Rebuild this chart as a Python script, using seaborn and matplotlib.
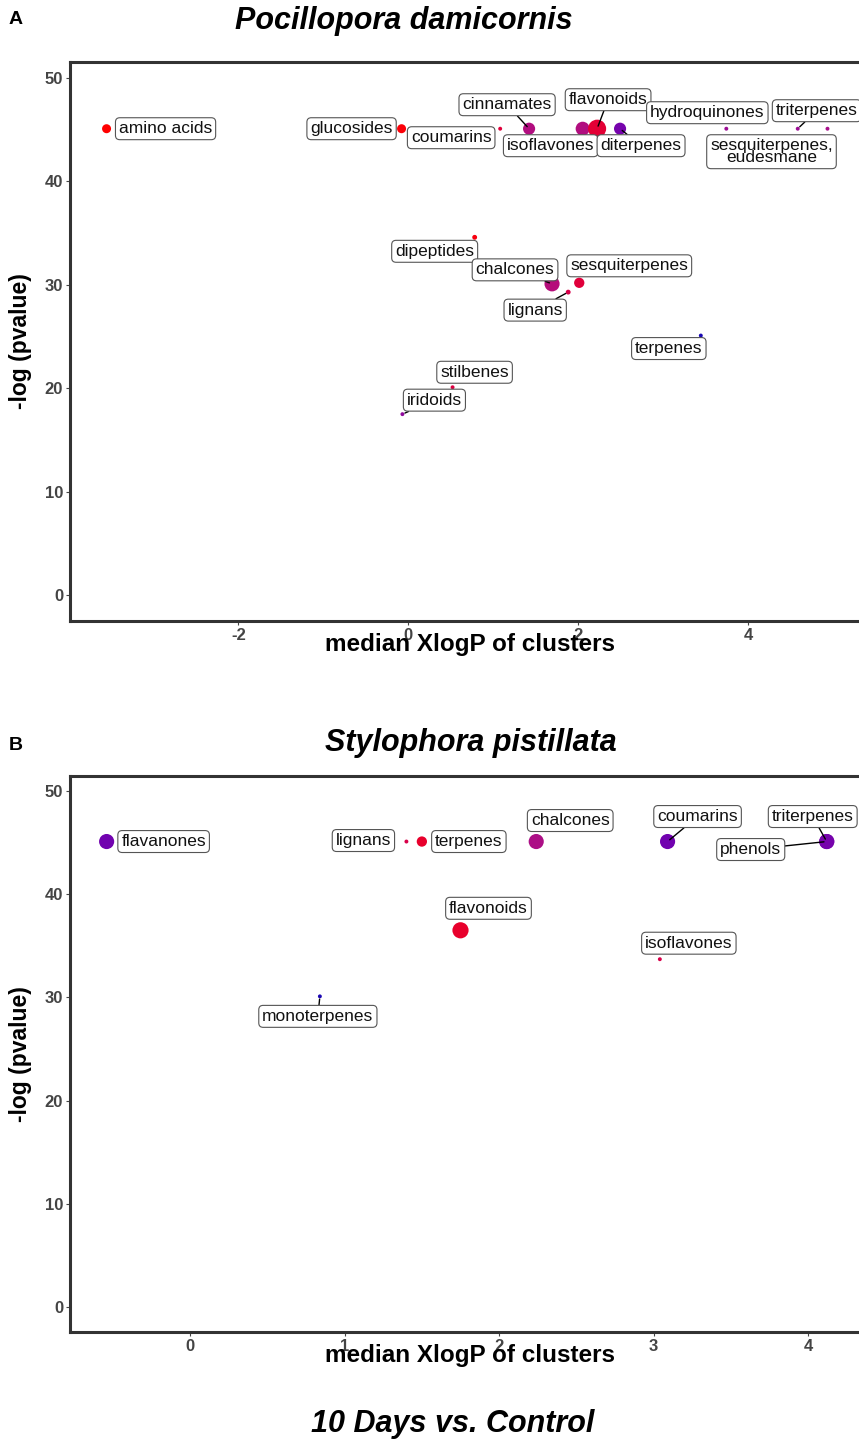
import matplotlib
matplotlib.use("Agg")
import matplotlib.pyplot as plt
from matplotlib.colors import LinearSegmentedColormap
import seaborn as sns
import pandas as pd

# ---------------- data ----------------
# Panel A: Pocillopora damicornis
a_class = ["amino acids", "glucosides", "coumarins", "cinnamates", "isoflavones",
           "flavonoids", "diterpenes", "hydroquinones", "triterpenes",
           "sesquiterpenes,\neudesmane", "dipeptides", "chalcones", "sesquiterpenes",
           "lignans", "terpenes", "stilbenes", "iridoids"]
a_xlogp = [-3.55, -0.08, 1.08, 1.42, 2.05, 2.22, 2.49, 3.74, 4.58, 4.93,
           0.78, 1.69, 2.01, 1.88, 3.44, 0.52, -0.07]
a_logp = [45.1, 45.1, 45.1, 45.1, 45.1, 45.1, 45.1, 45.1, 45.1, 45.1,
          34.6, 30.1, 30.2, 29.3, 25.1, 20.1, 17.5]
a_ratio = [1.0, 0.97, 0.8, 0.55, 0.55, 0.82, 0.3, 0.45, 0.45, 0.5,
           0.95, 0.57, 0.8, 0.75, 0.04, 0.78, 0.4]
a_n = [10, 10, 2, 18, 24, 40, 18, 2, 2, 2, 3, 28, 13, 3, 2, 2, 2]

# Panel B: Stylophora pistillata
b_class = ["flavanones", "lignans", "terpenes", "chalcones", "coumarins",
           "triterpenes", "phenols", "flavonoids", "isoflavones", "monoterpenes"]
b_xlogp = [-0.54, 1.40, 1.50, 2.24, 3.09, 4.12, 4.12, 1.75, 3.04, 0.84]
b_logp = [45.1, 45.1, 45.1, 45.1, 45.1, 45.1, 45.1, 36.5, 33.7, 30.1]
b_ratio = [0.28, 0.75, 0.85, 0.52, 0.28, 0.3, 0.3, 0.85, 0.75, 0.05]
b_n = [28, 2, 13, 28, 28, 28, 28, 32, 2, 2]

# ---------------- label layout (pixel offsets of label centres) ----------------
a_offsets = {
    "amino acids": (59, 0, False), "glucosides": (-50, 0, False),
    "coumarins": (-49, -9, False), "cinnamates": (-22, 24, True),
    "isoflavones": (-32, -17, False), "flavonoids": (11, 29, True),
    "diterpenes": (21, -17, True), "hydroquinones": (-19, 16, False),
    "triterpenes": (19, 18, True), "sesquiterpenes,\neudesmane": (-56, -23, False),
    "dipeptides": (-40, -14, False), "chalcones": (-37, 14, True),
    "sesquiterpenes": (50, 17, False), "lignans": (-33, -18, True),
    "terpenes": (-32, -13, False), "stilbenes": (22, 15, False),
    "iridoids": (32, 14, True),
}
b_offsets = {
    "flavanones": (57, 0, False), "lignans": (-43, 1, False),
    "terpenes": (47, 0, False), "chalcones": (34, 21, False),
    "coumarins": (30, 25, True), "triterpenes": (-14, 25, True),
    "phenols": (-76, -8, True), "flavonoids": (28, 22, False),
    "isoflavones": (29, 16, False), "monoterpenes": (-2, -20, True),
}

W, H = 859, 1440
sns.set_theme(style="white")
plt.rcParams["font.family"] = ["Liberation Sans", "DejaVu Sans"]
plt.rcParams["axes.unicode_minus"] = False

cmap = LinearSegmentedColormap.from_list(
    "bp", ["#0a0ab4", "#6a00b4", "#a8108c", "#d8004a", "#ff0000"])

fig = plt.figure(figsize=(W / 100, H / 100), dpi=100)


def px_axes(left, top, right, bottom):
    return fig.add_axes([left / W, 1 - bottom / H, (right - left) / W, (bottom - top) / H])


def panel(ax, cls, xs, ys, ratio, n, offsets, xlim, ylim, xticks):
    df = pd.DataFrame({"cls": cls, "x": xs, "y": ys, "ratio": ratio, "n": n})
    sns.scatterplot(data=df, x="x", y="y", hue="ratio", palette=cmap, hue_norm=(0, 1),
                    size="n", sizes=(8, 170), size_norm=(2, 40), linewidth=0,
                    legend=False, ax=ax, zorder=3)
    for _, r in df.iterrows():
        dx, dy, line = offsets[r["cls"]]
        ax.annotate(r["cls"], xy=(r["x"], r["y"]), xytext=(dx, dy),
                    textcoords="offset pixels", ha="center", va="center",
                    fontsize=12.5, color="#111111", linespacing=0.75,
                    bbox=dict(boxstyle="round,pad=0.2,rounding_size=0.25",
                              fc="white", ec="#555555", lw=0.8),
                    arrowprops=(dict(arrowstyle="-", color="black", lw=1.0,
                                     shrinkA=0, shrinkB=2) if line else None),
                    zorder=4)
    ax.set_xlim(*xlim)
    ax.set_ylim(*ylim)
    ax.set_xticks(xticks)
    ax.set_yticks([0, 10, 20, 30, 40, 50])
    for s in ["left", "bottom", "top"]:
        ax.spines[s].set_color("#333333")
        ax.spines[s].set_linewidth(2.2)
    ax.spines["right"].set_visible(False)
    ax.tick_params(axis="both", length=3, width=0.8, color="#444444",
                   labelcolor="#444444", labelsize=12, pad=2, bottom=True, left=True)
    for lab in ax.get_xticklabels() + ax.get_yticklabels():
        lab.set_fontweight("bold")
        lab.set_family(["Liberation Sans Narrow", "Liberation Sans", "DejaVu Sans"])
    ax.set_xlabel("median XlogP of clusters", fontsize=17.5, fontweight="bold", color="black")
    ax.set_ylabel("-log (pvalue)", fontsize=16.5, fontweight="bold", color="black")
    ax.grid(False)


axA = px_axes(70, 62, 870, 621)
panel(axA, a_class, a_xlogp, a_logp, a_ratio, a_n, a_offsets,
      (-3.98, 5.43), (-2.5, 51.55), [-2, 0, 2, 4])
axA.xaxis.set_label_coords(0.5, -0.022)
axA.yaxis.set_label_coords(-0.047, 0.5)

axB = px_axes(70, 776, 870, 1332)
panel(axB, b_class, b_xlogp, b_logp, b_ratio, b_n, b_offsets,
      (-0.777, 4.40), (-2.42, 51.45), [0, 1, 2, 3, 4])
axB.xaxis.set_label_coords(0.5, -0.022)
axB.yaxis.set_label_coords(-0.047, 0.5)

title_kw = dict(fontsize=22, fontweight="bold", style="italic", ha="center",
                va="center", color="black")
fig.text(404 / W, 1 - 21 / H, "Pocillopora damicornis", **title_kw)
fig.text(471 / W, 1 - 743 / H, "Stylophora pistillata", **title_kw)
fig.text(453 / W, 1 - 1424 / H, "10 Days vs. Control", **title_kw)
fig.text(16 / W, 1 - 20 / H, "A", fontsize=14, fontweight="bold", ha="center",
         va="center", color="black")
fig.text(16 / W, 1 - 745 / H, "B", fontsize=14, fontweight="bold", ha="center",
         va="center", color="black")

fig.savefig("out.png", dpi=100)
